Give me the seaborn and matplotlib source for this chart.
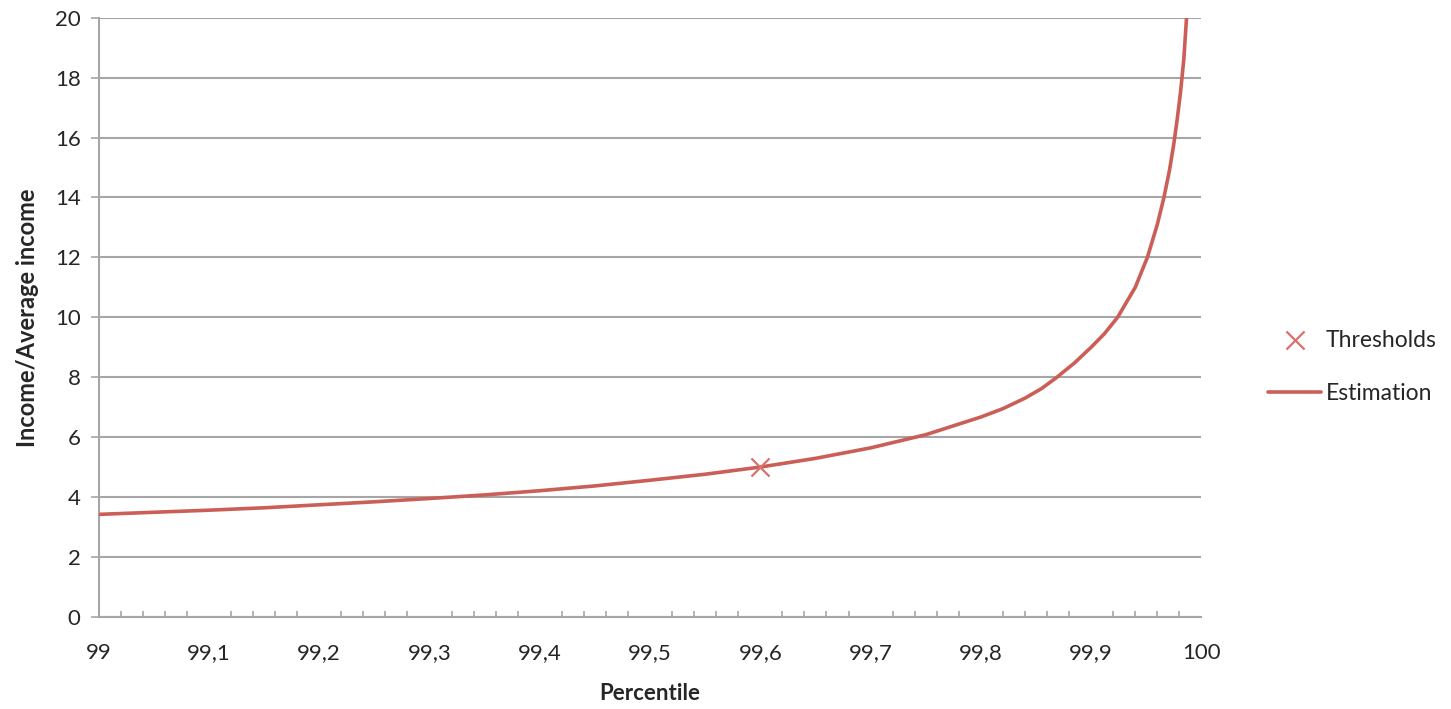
import numpy as np
import pandas as pd
import matplotlib.pyplot as plt
import seaborn as sns
from matplotlib.ticker import MultipleLocator, FuncFormatter

sns.set_style("white")
plt.rcParams['font.family'] = ['Lato', 'DejaVu Sans']

# --- Data ---
percentile = [99.0, 99.05, 99.1, 99.15, 99.2, 99.25, 99.3, 99.35, 99.4, 99.45,
              99.5, 99.55, 99.6, 99.65, 99.7, 99.75, 99.8, 99.82, 99.84, 99.855,
              99.869, 99.885, 99.9, 99.912, 99.924, 99.94, 99.951, 99.96,
              99.966, 99.971, 99.975, 99.978, 99.981, 99.984, 99.9865]
ratio = [3.42, 3.49, 3.56, 3.64, 3.74, 3.84, 3.95, 4.07, 4.21, 4.37,
         4.56, 4.76, 5.00, 5.29, 5.64, 6.08, 6.67, 6.95, 7.30, 7.62,
         8.00, 8.48, 9.00, 9.45, 10.0, 11.0, 12.0, 13.1,
         14.0, 14.9, 15.8, 16.6, 17.5, 18.6, 20.0]

threshold_pct = [99.6]
threshold_val = [5.0]

line_color = "#CB5E57"
marker_color = "#D9726B"
grid_color = "#A6A6A6"

est = pd.DataFrame({"Percentile": percentile, "Ratio": ratio})
thr = pd.DataFrame({"Percentile": threshold_pct, "Ratio": threshold_val})

fig = plt.figure(figsize=(14.51, 7.09), dpi=100)
ax = fig.add_axes([0.068, 0.130, 0.760, 0.845])

sns.lineplot(data=est, x="Percentile", y="Ratio", color=line_color, lw=2.6,
             ax=ax, label="Estimation", zorder=3)
sns.scatterplot(data=thr, x="Percentile", y="Ratio", marker="x", s=170,
                color=marker_color, linewidth=1.6, ax=ax, label="Thresholds",
                zorder=4)

ax.set_xlim(99, 100)
ax.set_ylim(0, 20)
ax.xaxis.set_major_locator(MultipleLocator(0.1))
ax.xaxis.set_minor_locator(MultipleLocator(0.02))
ax.yaxis.set_major_locator(MultipleLocator(2))
ax.xaxis.set_major_formatter(FuncFormatter(lambda v, p: f"{v:.1f}".rstrip("0").rstrip(".").replace(".", ",")))

ax.grid(axis="y", color=grid_color, lw=1.5)
ax.set_axisbelow(True)
for s in ["top", "right"]:
    ax.spines[s].set_visible(False)
for s in ["left", "bottom"]:
    ax.spines[s].set_color(grid_color)
    ax.spines[s].set_linewidth(1.5)

ax.tick_params(axis="x", which="major", direction="out", length=7, width=1.2,
               color=grid_color, labelsize=16, pad=12)
ax.tick_params(axis="x", which="minor", direction="in", length=4, width=1.2,
               color=grid_color, bottom=True)
ax.tick_params(axis="y", which="major", direction="out", length=6, width=1.2,
               color=grid_color, labelsize=16, pad=7, left=True)

ax.set_xlabel("Percentile", fontsize=16, fontweight="bold", labelpad=14)
ax.set_ylabel("Income/Average income", fontsize=17, fontweight="bold", labelpad=11)

# legend sits outside the plot, markers first
handles, labels = ax.get_legend_handles_labels()
ax.get_legend().remove()
order = [labels.index("Thresholds"), labels.index("Estimation")]
fig.legend([handles[i] for i in order], [labels[i] for i in order],
           loc="center left", bbox_to_anchor=(0.874, 0.483), frameon=False,
           fontsize=16.5, handlelength=2.3, labelspacing=1.4, handletextpad=0.2,
           borderpad=0, borderaxespad=0)

fig.savefig("out.png", dpi=100)
